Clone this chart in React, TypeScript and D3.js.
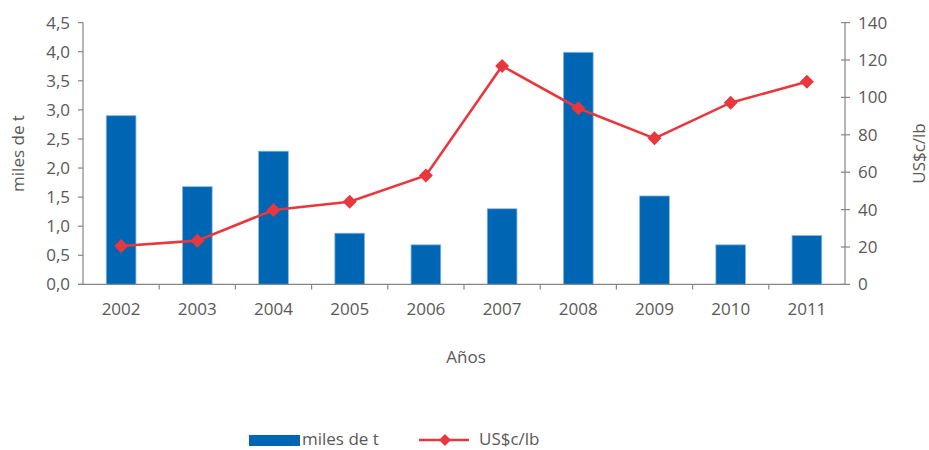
import React from "react";
import * as d3 from "d3";

const years = ["2002", "2003", "2004", "2005", "2006", "2007", "2008", "2009", "2010", "2011"];
const tonnes = [2.9, 1.68, 2.29, 0.88, 0.68, 1.3, 3.99, 1.52, 0.68, 0.84];
const priceCents = [20.5, 23.4, 39.8, 44.2, 58.3, 116.8, 94.2, 78.1, 97.2, 108.4];
const leftTicks = [0, 0.5, 1, 1.5, 2, 2.5, 3, 3.5, 4, 4.5];
const rightTicks = [0, 20, 40, 60, 80, 100, 120, 140];

const W = 929;
const H = 450;
const left = 83;
const right = 845;
const top = 22.6;
const bottom = 284.4;
const textColor = "#595959";
const axisColor = "#868686";
const barColor = "#0066B3";
const lineColor = "#E8383D";
const font = "'Open Sans', sans-serif";
const fs = 17;

const fmt = (v: number) => v.toFixed(1).replace(".", ",");

function diamond(cx: number, cy: number, r: number) {
  return `M${cx},${cy - r}L${cx + r},${cy}L${cx},${cy + r}L${cx - r},${cy}Z`;
}

export default function App() {
  const x = d3.scaleBand<string>().domain(years).range([left, right]).paddingInner(0).paddingOuter(0);
  const yL = d3.scaleLinear().domain([0, 4.5]).range([bottom, top]);
  const yR = d3.scaleLinear().domain([0, 140]).range([bottom, top]);
  const bw = x.bandwidth() * 0.39;
  const cx = (d: string) => (x(d) as number) + x.bandwidth() / 2;

  const line = d3
    .line<number>()
    .x((_, i) => cx(years[i]))
    .y((d) => yR(d));

  return (
    <svg width={W} height={H} style={{ display: "block", position: "absolute", left: 0, top: 0 }}>
      <rect width={W} height={H} fill="#fff" />
      {/* bars */}
      {tonnes.map((v, i) => (
        <rect
          key={years[i]}
          x={cx(years[i]) - bw / 2}
          y={yL(v)}
          width={bw}
          height={bottom - yL(v)}
          fill={barColor}
          stroke="#8ab8dd"
          strokeWidth={0.8}
        />
      ))}
      {/* left axis */}
      <line x1={left} x2={left} y1={top} y2={bottom} stroke={axisColor} strokeWidth={1.2} />
      {leftTicks.map((t) => (
        <g key={t}>
          <line x1={left - 5} x2={left} y1={yL(t)} y2={yL(t)} stroke={axisColor} strokeWidth={1.2} />
          <text x={left - 13} y={yL(t)} dy="0.35em" textAnchor="end" fontSize={fs} fill={textColor} fontFamily={font}>
            {fmt(t)}
          </text>
        </g>
      ))}
      {/* right axis */}
      <line x1={right} x2={right} y1={top} y2={bottom} stroke={axisColor} strokeWidth={1.2} />
      {rightTicks.map((t) => (
        <g key={t}>
          <line x1={right - 4} x2={right + 5} y1={yR(t)} y2={yR(t)} stroke={axisColor} strokeWidth={1.2} />
          <text x={right + 13} y={yR(t)} dy="0.35em" textAnchor="start" fontSize={fs} fill={textColor} fontFamily={font}>
            {t}
          </text>
        </g>
      ))}
      {/* x axis */}
      <line x1={left - 5} x2={right} y1={bottom} y2={bottom} stroke={axisColor} strokeWidth={1.2} />
      {years.map((yr, i) => (
        <g key={yr}>
          {i > 0 && (
            <line x1={x(yr)} x2={x(yr)} y1={bottom} y2={bottom + 5} stroke={axisColor} strokeWidth={1.2} />
          )}
          <text x={cx(yr)} y={309} dy="0.35em" textAnchor="middle" fontSize={fs} fill={textColor} fontFamily={font}>
            {yr}
          </text>
        </g>
      ))}
      {/* price line */}
      <path d={line(priceCents) || ""} fill="none" stroke={lineColor} strokeWidth={2.6} />
      {priceCents.map((v, i) => (
        <path key={i} d={diamond(cx(years[i]), yR(v), 7)} fill={lineColor} />
      ))}
      {/* axis titles */}
      <text x={466} y={357} dy="0.35em" textAnchor="middle" fontSize={fs} fill={textColor} fontFamily={font}>
        Años
      </text>
      <text
        transform={`translate(18,${(top + bottom) / 2}) rotate(-90)`}
        dy="0.35em"
        textAnchor="middle"
        fontSize={fs}
        fill={textColor}
        fontFamily={font}
      >
        miles de t
      </text>
      <text
        transform={`translate(919,${(top + bottom) / 2}) rotate(-90)`}
        dy="0.35em"
        textAnchor="middle"
        fontSize={fs}
        fill={textColor}
        fontFamily={font}
      >
        US$c/lb
      </text>
      {/* legend */}
      <rect x={249} y={435} width={51} height={11} fill={barColor} />
      <text x={302} y={439} dy="0.35em" fontSize={fs} fill={textColor} fontFamily={font}>
        miles de t
      </text>
      <line x1={419} x2={469} y1={440} y2={440} stroke={lineColor} strokeWidth={2.6} />
      <path d={diamond(445, 440, 6)} fill={lineColor} />
      <text x={479} y={439} dy="0.35em" fontSize={fs} fill={textColor} fontFamily={font}>
        US$c/lb
      </text>
    </svg>
  );
}
